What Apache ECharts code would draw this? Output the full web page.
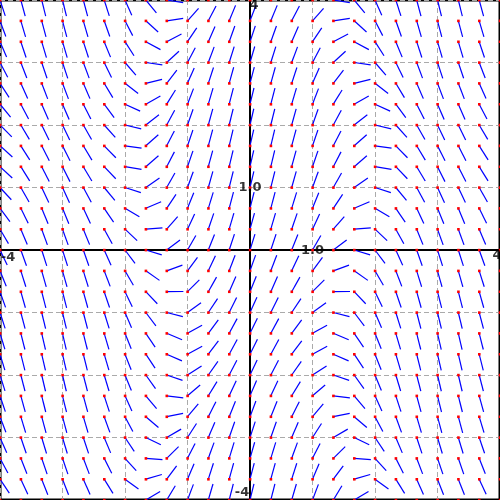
<!DOCTYPE html>
<html>
<head>
<meta charset="utf-8">
<script src="https://cdn.jsdelivr.net/npm/echarts@6/dist/echarts.min.js"></script>
<style>html,body{margin:0;padding:0;background:#fff;}#c{width:500px;height:500px;}</style>
</head>
<body>
<div id="c"></div>
<script>
// sample positions (columns and rows of the slope field)
const xs = [-4,-3.667,-3.333,-3,-2.667,-2.333,-2,-1.667,-1.333,-1,-0.667,-0.333,0,0.333,0.667,1,1.333,1.667,2,2.333,2.667,3,3.333,3.667,4];
const ys = [-4,-3.667,-3.333,-3,-2.667,-2.333,-2,-1.667,-1.333,-1,-0.667,-0.333,0,0.333,0.667,1,1.333,1.667,2,2.333,2.667,3,3.333,3.667,4];
// slope part that depends on the column
const columnSlope = [-2.09,-2.77,-3.14,-3.17,-2.85,-2.21,-1.33,-0.31,0.75,1.73,2.51,3.02,3.2,3.02,2.51,1.73,0.75,-0.31,-1.33,-2.21,-2.85,-3.17,-3.14,-2.77,-2.09];
// slope part that depends on the row
const rowSlope = [0.91,0.60,0.23,-0.17,-0.55,-0.87,-1.09,-1.19,-1.17,-1.01,-0.74,-0.39,0,0.39,0.74,1.01,1.17,1.19,1.09,0.87,0.55,0.17,-0.23,-0.60,-0.91];
// axis annotation labels
const labelTexts = ['-4','1.0','4','1.0','4','-4'];
const labelX = [-4,1,4,0,0,0];
const labelY = [0,0,0,1,4,-4];
const labelOffsets = [[8,8],[0,1],[-3,6],[0,0],[4,6],[-8,-7]];

const segLen = 0.267;

const fieldData = [];
for (let i = 0; i < xs.length; i++) {
  for (let j = 0; j < ys.length; j++) {
    fieldData.push([xs[i], ys[j], columnSlope[i] + rowSlope[j]]);
  }
}
const labelData = labelTexts.map((t, k) => ({
  name: t,
  value: [labelX[k], labelY[k]],
  label: { offset: labelOffsets[k] }
}));

const chart = echarts.init(document.getElementById('c'), null, {renderer: 'canvas'});
chart.setOption({
  animation: false,
  backgroundColor: '#fff',
  grid: {left: 0, right: 0, top: 0, bottom: 0, show: true, borderColor: '#000', borderWidth: 3, backgroundColor: 'transparent'},
  xAxis: {
    type: 'value', min: -4, max: 4, interval: 1,
    axisLine: {onZero: true, lineStyle: {color: '#000', width: 2}},
    axisTick: {show: false}, axisLabel: {show: false},
    splitLine: {show: true, lineStyle: {color: '#aaaaaa', type: [5, 3], width: 1}}
  },
  yAxis: {
    type: 'value', min: -4, max: 4, interval: 1,
    axisLine: {onZero: true, lineStyle: {color: '#000', width: 2}},
    axisTick: {show: false}, axisLabel: {show: false},
    splitLine: {show: true, lineStyle: {color: '#aaaaaa', type: [5, 3], width: 1}}
  },
  series: [
    {
      type: 'custom',
      clip: true,
      data: fieldData,
      renderItem: function (params, api) {
        const x = api.value(0), y = api.value(1), s = api.value(2);
        const p0 = api.coord([x, y]);
        const p1 = api.coord([x + 1, y + s]);
        let dx = p1[0] - p0[0], dy = p1[1] - p0[1];
        const n = Math.hypot(dx, dy);
        const L = api.size([segLen, 0])[0];
        dx = dx / n * L; dy = dy / n * L;
        return {
          type: 'group',
          children: [
            {type: 'line', shape: {x1: p0[0], y1: p0[1], x2: p0[0] + dx, y2: p0[1] + dy}, style: {stroke: '#0000ff', lineWidth: 1.2}},
            {type: 'rect', shape: {x: p0[0] - 1.2, y: p0[1] - 1.2, width: 2.6, height: 2.6}, style: {fill: '#ff0000'}}
          ]
        };
      }
    },
    {
      type: 'scatter',
      symbolSize: 1,
      itemStyle: {color: 'rgba(0,0,0,0)'},
      z: 10,
      data: labelData,
      label: {
        show: true, position: 'inside', formatter: '{b}',
        color: '#000', fontFamily: 'DejaVu Sans', fontWeight: 'bold', fontSize: 13,
        align: 'center', verticalAlign: 'middle'
      }
    }
  ]
});
</script>
</body>
</html>
